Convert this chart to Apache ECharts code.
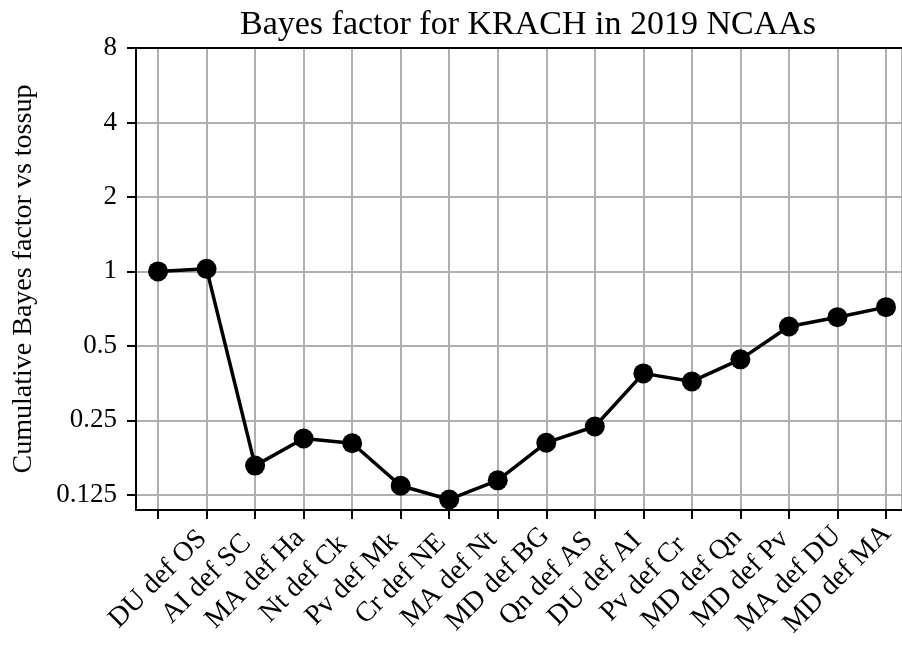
<!DOCTYPE html>
<html>
<head>
<meta charset="utf-8">
<title>Bayes factor for KRACH in 2019 NCAAs</title>
<script src="https://cdn.jsdelivr.net/npm/echarts@6/dist/echarts.min.js"></script>
<style>
  html, body { margin: 0; padding: 0; background: #fff; }
  #chart { width: 902px; height: 647px; }
</style>
</head>
<body>
<div id="chart"></div>
<script>
  // game labels (x ticks), one per tick from the left; last tick has none
  var games = ['DU def OS', 'AI def SC', 'MA def Ha', 'Nt def Ck', 'Pv def Mk',
    'Cr def NE', 'MA def Nt', 'MD def BG', 'Qn def AS', 'DU def AI',
    'Pv def Cr', 'MD def Qn', 'MD def Pv', 'MA def DU', 'MD def MA'];
  // cumulative bayes factor
  var bayes = [1.0, 1.024, 0.164, 0.211, 0.202, 0.136, 0.1197, 0.143,
    0.203, 0.236, 0.387, 0.359, 0.441, 0.599, 0.653, 0.717];
  var yTicks = [0.125, 0.25, 0.5, 1, 2, 4, 8];

  var font = 'Liberation Serif';
  var xMin = -0.454, xMax = 15.33;  // right side is cut off by the picture edge
  var chart = echarts.init(document.getElementById('chart'));

  var option = {
    backgroundColor: '#fff',
    animation: false,
    title: {
      text: 'Bayes factor for KRACH in 2019 NCAAs',
      left: 523,
      textAlign: 'center',
      top: 3,
      textStyle: { fontFamily: font, fontSize: 34, fontWeight: 'normal', color: '#000' }
    },
    grid: {
      left: 136, right: 0, top: 48, bottom: 137,
      containLabel: false
    },
    xAxis: [{
      type: 'value',
      min: xMin,
      max: xMax,
      splitNumber: 16,
      minInterval: 1,
      maxInterval: 1,
      axisLine: { onZero: false, lineStyle: { color: '#000', width: 2 } },
      axisTick: { length: 9, lineStyle: { color: '#000', width: 2 } },
      splitLine: { show: true, lineStyle: { color: '#b0b0b0', width: 2 } },
      axisLabel: {
        showMinLabel: false,
        showMaxLabel: false,
        rotate: 45,
        align: 'center',
        verticalAlign: 'middle',
        margin: 69,
        fontFamily: font,
        fontSize: 28,
        color: '#000',
        formatter: function (v) {
          if (Math.abs(v - Math.round(v)) > 1e-6) return '';
          return games[Math.round(v)] || '';
        }
      }
    }, {
      // top spine only
      type: 'value',
      position: 'top',
      min: xMin,
      max: xMax,
      axisLine: { onZero: false, lineStyle: { color: '#000', width: 2 } },
      axisTick: { show: false },
      axisLabel: { show: false },
      splitLine: { show: false }
    }],
    yAxis: {
      type: 'log',
      logBase: 2,
      min: 0.1085,
      max: 8,
      name: 'Cumulative Bayes factor vs tossup',
      nameLocation: 'middle',
      nameGap: 98,
      nameTextStyle: { fontFamily: font, fontSize: 28, color: '#000' },
      axisLine: { onZero: false, lineStyle: { color: '#000', width: 2 } },
      axisTick: { length: 9, lineStyle: { color: '#000', width: 2 } },
      splitLine: { show: true, lineStyle: { color: '#b0b0b0', width: 2 } },
      axisLabel: {
        showMinLabel: false,
        margin: 19,
        fontFamily: font,
        fontSize: 27,
        color: '#000',
        formatter: function (v) {
          for (var i = 0; i < yTicks.length; i++) {
            if (Math.abs(v - yTicks[i]) < 1e-6) return String(yTicks[i]);
          }
          return '';
        }
      }
    },
    series: [{
      type: 'line',
      xAxisIndex: 0,
      data: bayes.map(function (v, i) { return [i, v]; }),
      symbol: 'circle',
      symbolSize: 20,
      itemStyle: { color: '#000' },
      lineStyle: { color: '#000', width: 3.5 },
      z: 5
    }]
  };

  chart.setOption(option);
</script>
</body>
</html>
